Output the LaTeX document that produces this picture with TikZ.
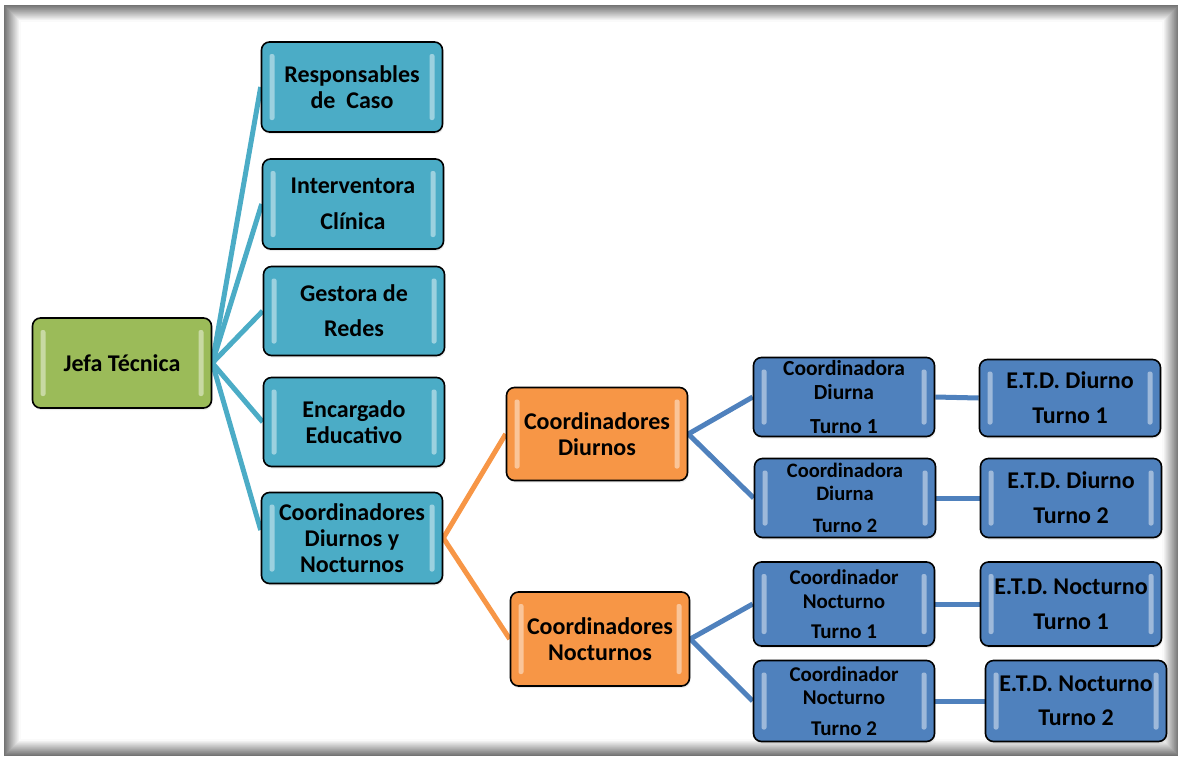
\documentclass[tikz,border=0pt]{standalone}
\usepackage{fontspec}
\setmainfont{Carlito}
\usetikzlibrary{shadows, backgrounds, positioning}
\definecolor{orgteal}{HTML}{4BACC6}
\definecolor{orggreen}{HTML}{9BBB59}
\definecolor{orgorange}{HTML}{F79646}
\definecolor{orgblue}{HTML}{4F81BD}
\newcommand{\bigfont}{\fontsize{24}{26}\selectfont\bfseries}
\newcommand{\smallfont}{\fontsize{21.5}{24}\selectfont\bfseries}
\newcommand{\midfont}{\fontsize{24}{25}\selectfont\bfseries}
\tikzset{box/.style={draw=black, line width=1.6pt, rounded corners=8pt, minimum width=181pt, minimum height=90pt, inner sep=0pt, align=center, font=\bigfont, drop shadow={opacity=0.15, shadow xshift=1pt, shadow yshift=-2pt}, path picture={
    \fill[white, opacity=0.45, rounded corners=2pt] ([xshift=8pt,yshift=-12pt]path picture bounding box.north west) rectangle ([xshift=13pt,yshift=12pt]path picture bounding box.south west);
    \fill[white, opacity=0.45, rounded corners=2pt] ([xshift=-8pt,yshift=-12pt]path picture bounding box.north east) rectangle ([xshift=-13pt,yshift=12pt]path picture bounding box.south east);}}}
\tikzset{greenbox/.style={box, fill=orggreen}}
\tikzset{tealbox/.style={box, fill=orgteal}}
\tikzset{orangebox/.style={box, fill=orgorange}}
\tikzset{bluebox/.style={box, fill=orgblue, font=\smallfont}}
\tikzset{tealline/.style={color=orgteal, line width=5pt}}
\tikzset{orangeline/.style={color=orgorange, line width=5pt}}
\tikzset{blueline/.style={color=orgblue, line width=5pt}}
\begin{document}
\begin{tikzpicture}[x=1pt, y=-1pt]
        \useasboundingbox (0,0) rectangle (1178,756);
        % frame with inner shadow
        \foreach \i in {0,...,15} {
            \pgfmathtruncatemacro{\shade}{55-3.5*\i}
            \draw[black!\shade, line width=1.1pt] (5+\i,6+\i) rectangle (1178-\i,755-\i);
        }

        \node[greenbox, minimum width=179pt] (jefa) at (122,363) {Jefa Técnica};

        \node[tealbox] (resp) at (352,87) {Responsables\\de\ \ Caso};
        \node[tealbox] (interv) at (353,204) {Interventora\\[10pt]Clínica};
        \node[tealbox, minimum height=89pt] (gestora) at (354,311) {Gestora de\\[9pt]Redes};
        \node[tealbox, minimum height=89pt] (encarg) at (354,422) {Encargado\\Educativo};
        \node[tealbox, minimum height=91pt] (coordDN) at (352,538) {Coordinadores\\Diurnos y\\Nocturnos};

        \node[orangebox, minimum height=93pt] (coordD) at (597,434) {Coordinadores\\Diurnos};
        \node[orangebox, minimum width=179pt, minimum height=94pt] (coordN) at (600,639) {Coordinadores\\Nocturnos};

        \node[bluebox, minimum height=79pt] (cdt1) at (844,397) {Coordinadora\\Diurna\\[10pt]Turno 1};
        \node[bluebox, minimum height=79pt, font=\fontsize{20.5}{23}\selectfont\bfseries] (cdt2) at (845,498) {Coordinadora\\Diurna\\[9pt]Turno 2};
        \node[bluebox, minimum height=84pt, font=\fontsize{21}{24}\selectfont\bfseries] (cnt1) at (844,604) {Coordinador\\Nocturno\\[6pt]Turno 1};
        \node[bluebox, minimum height=81pt, font=\fontsize{21}{23}\selectfont\bfseries] (cnt2) at (844,701) {Coordinador\\Nocturno\\[8pt]Turno 2};

        \node[bluebox, minimum height=77pt, font=\midfont] (etd1) at (1070,398) {E.T.D. Diurno\\[10pt]Turno 1};
        \node[bluebox, minimum height=79pt, font=\midfont] (etd2) at (1071,498) {E.T.D. Diurno\\[10pt]Turno 2};
        \node[bluebox, minimum height=84pt, font=\midfont] (etn1) at (1071,604) {E.T.D. Nocturno\\[10pt]Turno 1};
        \node[bluebox, minimum height=81pt, font=\midfont] (etn2) at (1076,701) {E.T.D. Nocturno\\[9pt]Turno 2};

        \begin{scope}[on background layer]
            \draw[tealline] (jefa.east) -- (resp.west);
            \draw[tealline] (jefa.east) -- (interv.west);
            \draw[tealline] (jefa.east) -- (gestora.west);
            \draw[tealline] (jefa.east) -- (encarg.west);
            \draw[tealline] (jefa.east) -- ([yshift=8pt]coordDN.west);

            \draw[orangeline] (coordDN.east) -- (coordD.west);
            \draw[orangeline] (coordDN.east) -- (coordN.west);

            \draw[blueline] (coordD.east) -- (cdt1.west);
            \draw[blueline] (coordD.east) -- (cdt2.west);
            \draw[blueline] (coordN.east) -- (cnt1.west);
            \draw[blueline] (coordN.east) -- (cnt2.west);

            \draw[blueline] (cdt1.east) -- (etd1.west);
            \draw[blueline] (cdt2.east) -- (etd2.west);
            \draw[blueline] (cnt1.east) -- (etn1.west);
            \draw[blueline] (cnt2.east) -- (etn2.west);
        \end{scope}
    \end{tikzpicture}
\end{document}
